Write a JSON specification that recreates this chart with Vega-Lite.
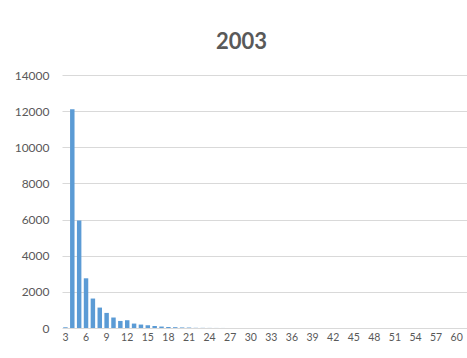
{
  "$schema": "https://vega.github.io/schema/vega-lite/v6.json",
  "autosize": {"type": "none"},
  "width": 405,
  "height": 253,
  "padding": {"left": 62, "top": 75, "right": 0, "bottom": 30},
  "background": "white",
  "title": {
    "text": "2003",
    "font": "Lato",
    "fontSize": 22,
    "fontWeight": "bold",
    "color": "#595959",
    "anchor": "middle",
    "frame": "group",
    "baseline": "alphabetic",
    "offset": 19,
    "dx": -23,
    "dy": 21
  },
  "data": {
    "values": [
      {"category": 3, "count": 40},
      {"category": 4, "count": 12100},
      {"category": 5, "count": 5950},
      {"category": 6, "count": 2750},
      {"category": 7, "count": 1630},
      {"category": 8, "count": 1130},
      {"category": 9, "count": 835},
      {"category": 10, "count": 580},
      {"category": 11, "count": 390},
      {"category": 12, "count": 430},
      {"category": 13, "count": 245},
      {"category": 14, "count": 190},
      {"category": 15, "count": 150},
      {"category": 16, "count": 110},
      {"category": 17, "count": 80},
      {"category": 18, "count": 55},
      {"category": 19, "count": 45},
      {"category": 20, "count": 30},
      {"category": 21, "count": 25},
      {"category": 22, "count": 10},
      {"category": 23, "count": 8},
      {"category": 24, "count": 5},
      {"category": 25, "count": 3},
      {"category": 26, "count": 2},
      {"category": 27, "count": 1},
      {"category": 28, "count": 0},
      {"category": 29, "count": 0},
      {"category": 30, "count": 0},
      {"category": 31, "count": 0},
      {"category": 32, "count": 0},
      {"category": 33, "count": 0},
      {"category": 34, "count": 0},
      {"category": 35, "count": 0},
      {"category": 36, "count": 0},
      {"category": 37, "count": 0},
      {"category": 38, "count": 0},
      {"category": 39, "count": 0},
      {"category": 40, "count": 0},
      {"category": 41, "count": 0},
      {"category": 42, "count": 0},
      {"category": 43, "count": 0},
      {"category": 44, "count": 0},
      {"category": 45, "count": 0},
      {"category": 46, "count": 0},
      {"category": 47, "count": 0},
      {"category": 48, "count": 0},
      {"category": 49, "count": 0},
      {"category": 50, "count": 0},
      {"category": 51, "count": 0},
      {"category": 52, "count": 0},
      {"category": 53, "count": 0},
      {"category": 54, "count": 0},
      {"category": 55, "count": 0},
      {"category": 56, "count": 0},
      {"category": 57, "count": 0},
      {"category": 58, "count": 0},
      {"category": 59, "count": 0},
      {"category": 60, "count": 0},
      {"category": 61, "count": 0}
    ]
  },
  "mark": {"type": "bar", "color": "#5b9bd5"},
  "encoding": {
    "x": {
      "field": "category",
      "type": "ordinal",
      "sort": "ascending",
      "scale": {"paddingInner": 0.35, "paddingOuter": 0.175},
      "axis": {
        "title": null,
        "values": [3, 6, 9, 12, 15, 18, 21, 24, 27, 30, 33, 36, 39, 42, 45, 48, 51, 54, 57, 60],
        "labelAngle": 0,
        "labelFont": "Lato",
        "labelFontSize": 10.5,
        "labelColor": "#595959",
        "labelPadding": 4,
        "ticks": false,
        "domain": false,
        "grid": false
      }
    },
    "y": {
      "field": "count",
      "type": "quantitative",
      "scale": {"domain": [0, 14000], "nice": false},
      "axis": {
        "title": null,
        "values": [0, 2000, 4000, 6000, 8000, 10000, 12000, 14000],
        "format": "d",
        "labelFont": "Lato",
        "labelFontSize": 12,
        "labelColor": "#595959",
        "labelPadding": 13,
        "ticks": false,
        "domain": false,
        "grid": true,
        "gridColor": "#d9d9d9",
        "gridWidth": 1
      }
    }
  },
  "config": {
    "view": {"stroke": null}
  }
}
